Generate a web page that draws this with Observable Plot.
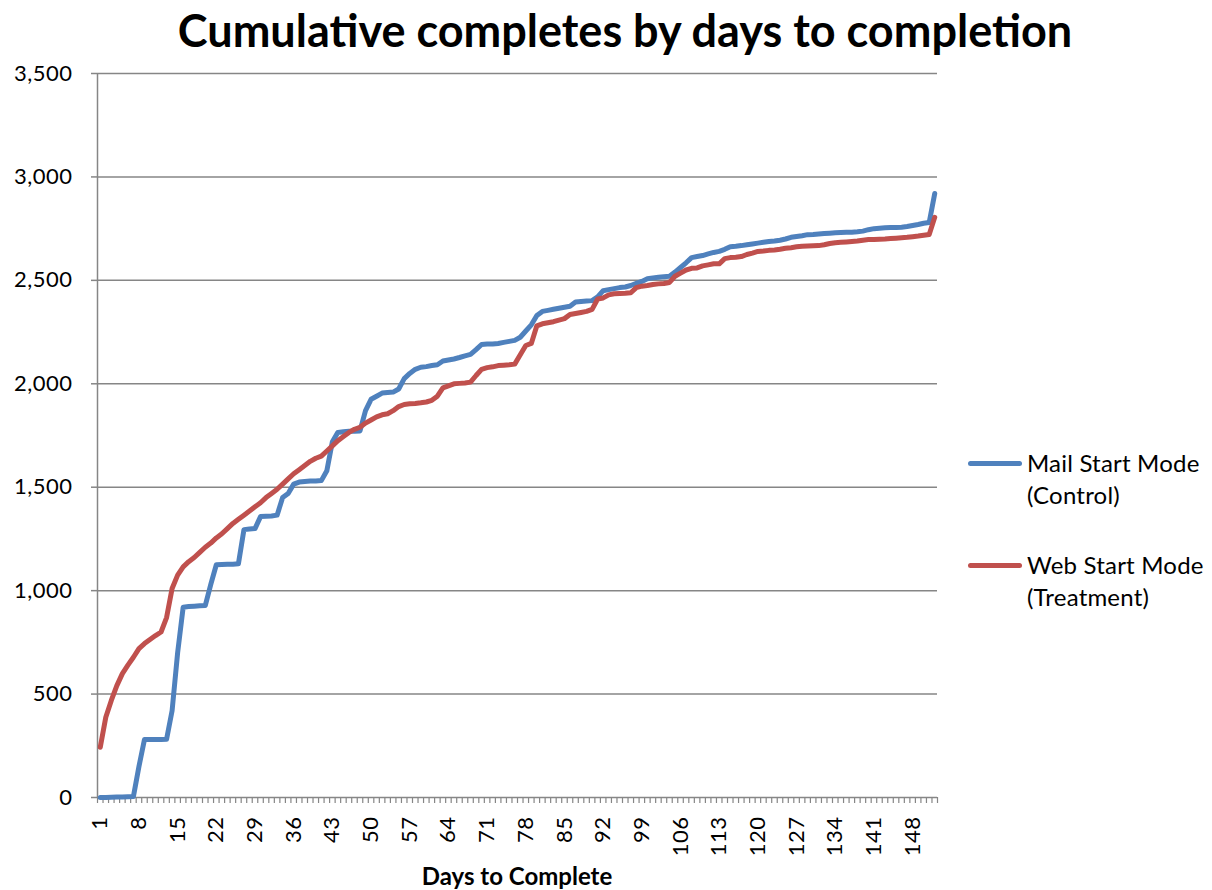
<!DOCTYPE html>
<html>
<head>
<meta charset="utf-8">
<script src="https://cdn.jsdelivr.net/npm/d3@7"></script>
<script src="https://cdn.jsdelivr.net/npm/@observablehq/plot@0.6"></script>
<style>
  html, body { margin: 0; padding: 0; background: #fff; }
  #wrap { position: relative; width: 1212px; height: 890px; background: #fff; font-family: Lato, "Open Sans", sans-serif; color: #000; }
  #chart { position: absolute; left: 0; top: 0; }
  #chart svg text { letter-spacing: 0.5px; }
  #title { position: absolute; left: 625px; top: 0; transform: translateX(-50%); white-space: nowrap;
           font-weight: 700; font-size: 45px; line-height: 60px; }
  #xtitle { position: absolute; left: 517px; top: 862px; transform: translateX(-50%); white-space: nowrap;
            font-weight: 700; font-size: 24px; line-height: 28px; }
  .item { position: absolute; left: 968px; display: flex; align-items: flex-start; }
  .sw { display: inline-block; width: 54px; height: 5px; border-radius: 3px; margin-top: 13.5px; margin-right: 5px; }
  .lbl { font-size: 24px; line-height: 32px; white-space: nowrap; letter-spacing: 0.2px; }
</style>
</head>
<body>
<div id="wrap">
  <div id="chart"></div>
  <div id="title">Cumulative completes by days to completion</div>
  <div id="xtitle">Days to Complete</div>
  <div id="legend"></div>
</div>
<script>
// ---- data ----
const days = d3.range(1, 153); // categories 1..152
const mail = [
  0,0,1,2,3,4,5,150,280,280,
  280,280,282,420,700,920,923,925,927,928,
  1030,1125,1126,1127,1128,1130,1295,1298,1300,1358,
  1360,1361,1365,1450,1470,1515,1525,1528,1530,1530,
  1532,1580,1720,1765,1768,1770,1770,1772,1870,1925,
  1940,1955,1958,1960,1975,2025,2050,2070,2080,2083,
  2088,2092,2110,2115,2120,2127,2135,2142,2165,2190,
  2192,2192,2195,2200,2205,2210,2225,2255,2285,2330,
  2350,2355,2360,2365,2370,2375,2395,2398,2400,2402,
  2420,2450,2455,2460,2465,2468,2475,2485,2495,2508,
  2512,2515,2518,2520,2540,2562,2585,2610,2615,2620,
  2628,2635,2640,2650,2663,2665,2668,2672,2676,2680,
  2684,2688,2690,2694,2700,2708,2712,2716,2721,2722,
  2724,2726,2728,2730,2731,2732,2733,2735,2738,2745,
  2750,2752,2754,2755,2756,2757,2760,2765,2770,2776,
  2780,2920
];
const web = [
  243,388,469,541,599,640,678,720,744,764,
  783,800,870,1010,1075,1115,1140,1160,1185,1210,
  1230,1255,1275,1300,1325,1345,1365,1385,1405,1425,
  1450,1470,1490,1515,1540,1565,1585,1605,1625,1640,
  1650,1675,1700,1725,1745,1765,1780,1790,1810,1825,
  1840,1850,1855,1870,1890,1900,1903,1905,1908,1912,
  1920,1940,1980,1990,2000,2002,2004,2008,2040,2070,
  2078,2082,2088,2090,2092,2095,2140,2185,2195,2280,
  2290,2295,2300,2308,2315,2335,2340,2345,2350,2360,
  2410,2415,2430,2435,2437,2438,2440,2465,2472,2475,
  2480,2483,2485,2490,2520,2535,2550,2558,2560,2570,
  2575,2580,2580,2605,2610,2612,2615,2625,2632,2640,
  2642,2645,2647,2650,2655,2658,2662,2665,2666,2667,
  2668,2672,2678,2682,2684,2686,2688,2690,2694,2697,
  2698,2699,2700,2702,2704,2706,2708,2711,2714,2718,
  2722,2805
];
const seriesNames = ["Mail Start Mode (Control)", "Web Start Mode (Treatment)"];
const seriesLabels = [["Mail Start Mode", "(Control)"], ["Web Start Mode", "(Treatment)"]];
const seriesColors = ["#4F81BD", "#C0504D"];
const xTicks = [1,8,15,22,29,36,43,50,57,64,71,78,85,92,99,106,113,120,127,134,141,148];
const yTicks = [0,500,1000,1500,2000,2500,3000,3500];

// ---- table ----
const rows = [];
days.forEach((d, i) => rows.push({day: d, value: mail[i], series: seriesNames[0]}));
days.forEach((d, i) => rows.push({day: d, value: web[i], series: seriesNames[1]}));
const boundaries = [days[0] - 0.5, ...days.map(d => d + 0.5)];

const gridColor = "#868686";
const chart = Plot.plot({
  width: 1212,
  height: 890,
  marginLeft: 97,
  marginRight: 275,
  marginTop: 73,
  marginBottom: 93,
  style: {fontFamily: "Lato, 'Open Sans', sans-serif", fontSize: "22px", color: "#000", background: "#fff", overflow: "visible"},
  x: {type: "linear", domain: [days[0] - 0.5, days[days.length - 1] + 0.5]},
  y: {domain: [yTicks[0], yTicks[yTicks.length - 1]]},
  color: {domain: seriesNames, range: seriesColors},
  marks: [
    Plot.gridY(yTicks.slice(1), {stroke: gridColor, strokeOpacity: 1, strokeWidth: 1.5}),
    Plot.ruleX([boundaries[0]], {stroke: gridColor, strokeWidth: 1.5}),
    Plot.axisY(yTicks, {tickSize: 6, tickPadding: 19, stroke: gridColor, strokeWidth: 1.5, fill: "#000",
                        tickFormat: d3.format(","), fontSize: 22, label: null}),
    Plot.axisX(boundaries, {tickSize: 6, stroke: gridColor, strokeWidth: 1.2, tickFormat: () => "", label: null}),
    Plot.axisX(xTicks, {tickSize: 0, tickRotate: -90, tickPadding: 19, fill: "#000", fontSize: 22, label: null}),
    Plot.ruleY([yTicks[0]], {stroke: gridColor, strokeWidth: 1.5}),
    Plot.line(rows, {x: "day", y: "value", z: "series", stroke: "series", strokeWidth: 5,
                     strokeLinejoin: "round", strokeLinecap: "round"})
  ]
});
document.getElementById("chart").appendChild(chart);

// ---- legend ----
const legend = document.getElementById("legend");
const legendTops = [447, 549];
seriesNames.forEach((name, i) => {
  const item = document.createElement("div");
  item.className = "item";
  item.style.top = legendTops[i] + "px";
  const sw = document.createElement("span");
  sw.className = "sw";
  sw.style.background = seriesColors[i];
  const lbl = document.createElement("span");
  lbl.className = "lbl";
  lbl.innerHTML = seriesLabels[i].join("<br>");
  item.appendChild(sw);
  item.appendChild(lbl);
  legend.appendChild(item);
});
</script>
</body>
</html>
